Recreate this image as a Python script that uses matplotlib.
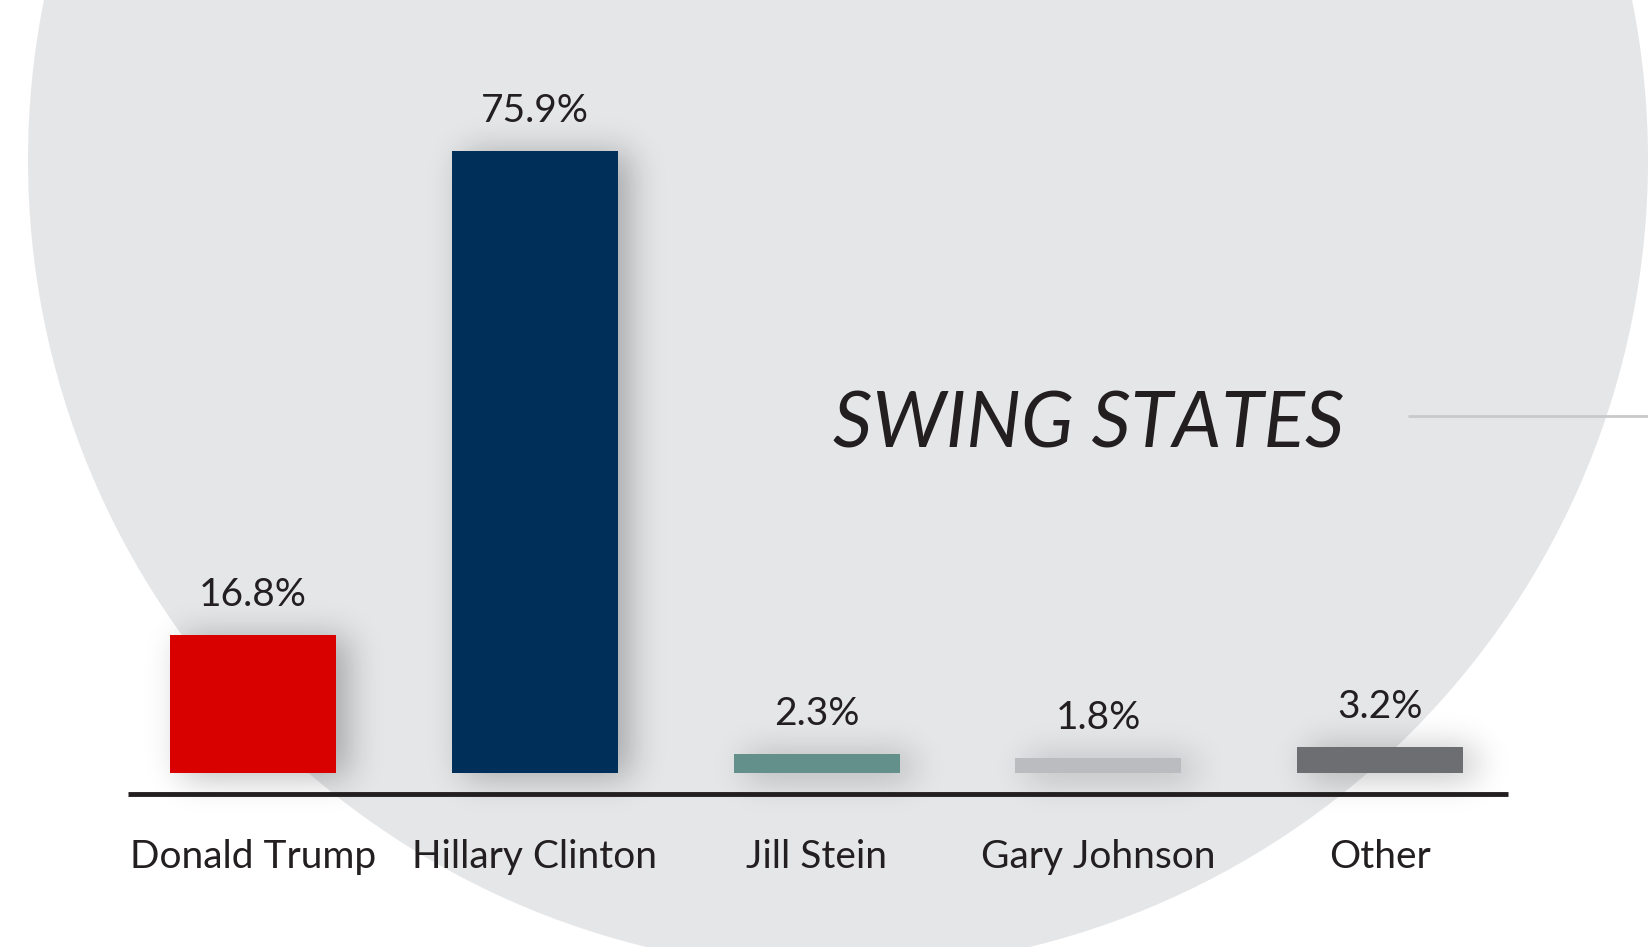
import numpy as np
import matplotlib.pyplot as plt
from matplotlib.patches import Ellipse

candidates = ["Donald Trump", "Hillary Clinton", "Jill Stein", "Gary Johnson", "Other"]
shares = [16.8, 75.9, 2.3, 1.8, 3.2]
labels = ["16.8%", "75.9%", "2.3%", "1.8%", "3.2%"]
colors = ["#d90000", "#00305a", "#63908a", "#bbbcc0", "#6d6e72"]

W, H = 1648, 947
fig = plt.figure(figsize=(W / 100, H / 100), dpi=100)
fig.patch.set_facecolor("white")

ax = fig.add_axes([0, 0, 1, 1])
ax.set_facecolor("none")
ax.set_zorder(1)

# big grey circle behind everything
circle = Ellipse((838 / W, 1 - 160 / H), 2 * 810 / W, 2 * 810 / H,
                 transform=fig.transFigure, facecolor="#e5e6e8",
                 edgecolor="none", zorder=-5)
fig.add_artist(circle)

px_x = 281.75           # pixels per category step
px_y = 8.195            # pixels per percent
ax.set_xlim(-253 / px_x, (W - 253) / px_x)
ax.set_ylim(-174 / px_y, (H - 174) / px_y)
ax.axis("off")

x = np.arange(len(candidates))
bw = 166 / px_x

bars = ax.bar(x, shares, width=bw, color=colors, zorder=3)

# soft drop shadow: blurred mask of the bars, drawn as a figure image
mask = np.zeros((H, W))
for b in bars:
    (x0, y0), (x1, y1) = ax.transData.transform(
        [(b.get_x(), 0), (b.get_x() + b.get_width(), b.get_height())])
    c0, c1 = int(round(x0)) + 12, int(round(x1)) + 12
    r0, r1 = H - int(round(y1)) + 2, H - int(round(y0)) + 4
    mask[r0:r1, c0:c1] = 1.0
sig = 17
k = np.arange(-3 * sig, 3 * sig + 1)
kern = np.exp(-k ** 2 / (2 * sig ** 2))
kern /= kern.sum()
mask = np.apply_along_axis(lambda r: np.convolve(r, kern, mode="same"), 1, mask)
mask = np.apply_along_axis(lambda c: np.convolve(c, kern, mode="same"), 0, mask)
shadow = np.zeros((H, W, 4))
shadow[..., 3] = mask * 0.28
fig.figimage(shadow, xo=0, yo=0, origin="upper", zorder=-1)

for xi, v, lab in zip(x, shares, labels):
    ax.annotate(lab, (xi, v), xytext=(0, 16), textcoords="offset points",
                ha="center", va="bottom", fontsize=28, family="Lato",
                color="#231f20", zorder=4)

for xi, name in zip(x, candidates):
    ax.text(xi, -(857 - 773) / px_y, name, ha="center", va="center",
            fontsize=28, family="Lato", color="#231f20", zorder=4)

# baseline
ax.hlines(-(794 - 773) / px_y, -125 / px_x, (1508 - 253) / px_x,
          color="#231f20", linewidth=3.5, zorder=4)

# title and connector line
ax.text((1089 - 253) / px_x, (773 - 425) / px_y, "SWING STATES", ha="center",
        va="center", fontsize=55.5, family="Lato", style="italic",
        color="#231f20", zorder=4)
ax.hlines((773 - 416) / px_y, (1408 - 253) / px_x, (W - 253) / px_x,
          color="#c8c9cb", linewidth=2, zorder=2)

fig.savefig("out.png", dpi=100)
